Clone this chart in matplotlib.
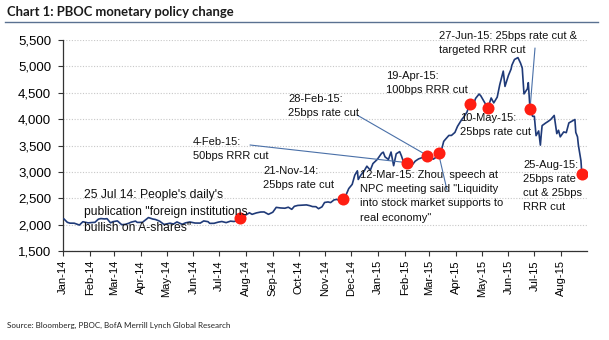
import pandas as pd
import matplotlib
matplotlib.use('Agg')
import matplotlib.pyplot as plt
import matplotlib.dates as mdates
from matplotlib.ticker import FuncFormatter, MultipleLocator
from matplotlib.lines import Line2D

# Shanghai Composite, values
dates = [
    '2014-01-02', '2014-01-06', '2014-01-09', '2014-01-14', '2014-01-20', '2014-01-24', '2014-01-30',
    '2014-02-07', '2014-02-11', '2014-02-14', '2014-02-18', '2014-02-21', '2014-02-25', '2014-02-28',
    '2014-03-05', '2014-03-10', '2014-03-14', '2014-03-18', '2014-03-21', '2014-03-26', '2014-03-28',
    '2014-04-03', '2014-04-10', '2014-04-15', '2014-04-18', '2014-04-23', '2014-04-28',
    '2014-05-05', '2014-05-09', '2014-05-13', '2014-05-19', '2014-05-23', '2014-05-28',
    '2014-06-03', '2014-06-09', '2014-06-13', '2014-06-18', '2014-06-20', '2014-06-25', '2014-06-30',
    '2014-07-04', '2014-07-09', '2014-07-14', '2014-07-18', '2014-07-22', '2014-07-25', '2014-07-29',
    '2014-08-01', '2014-08-05', '2014-08-08', '2014-08-13', '2014-08-18', '2014-08-22', '2014-08-27',
    '2014-09-01', '2014-09-05', '2014-09-10', '2014-09-15', '2014-09-19', '2014-09-23', '2014-09-26', '2014-09-30',
    '2014-10-10', '2014-10-14', '2014-10-17', '2014-10-21', '2014-10-24', '2014-10-28', '2014-10-31',
    '2014-11-04', '2014-11-07', '2014-11-11', '2014-11-14', '2014-11-18', '2014-11-21', '2014-11-25', '2014-11-28',
    '2014-12-02', '2014-12-05', '2014-12-08', '2014-12-09', '2014-12-12', '2014-12-16', '2014-12-19',
    '2014-12-23', '2014-12-26', '2014-12-31',
    '2015-01-05', '2015-01-07', '2015-01-09', '2015-01-13', '2015-01-16', '2015-01-19', '2015-01-22',
    '2015-01-26', '2015-01-28', '2015-01-30',
    '2015-02-03', '2015-02-04', '2015-02-06', '2015-02-10', '2015-02-13', '2015-02-17', '2015-02-26', '2015-02-27',
    '2015-03-03', '2015-03-06', '2015-03-10', '2015-03-12', '2015-03-16', '2015-03-18', '2015-03-20',
    '2015-03-24', '2015-03-27', '2015-03-31',
    '2015-04-03', '2015-04-08', '2015-04-10', '2015-04-14', '2015-04-17', '2015-04-20', '2015-04-24',
    '2015-04-28', '2015-04-30',
    '2015-05-05', '2015-05-08', '2015-05-12', '2015-05-15', '2015-05-19', '2015-05-22', '2015-05-26', '2015-05-28',
    '2015-06-01', '2015-06-04', '2015-06-05', '2015-06-08', '2015-06-12', '2015-06-15', '2015-06-17',
    '2015-06-19', '2015-06-23', '2015-06-24', '2015-06-26', '2015-06-29',
    '2015-07-01', '2015-07-03', '2015-07-06', '2015-07-08', '2015-07-09', '2015-07-10', '2015-07-14',
    '2015-07-17', '2015-07-20', '2015-07-24', '2015-07-27', '2015-07-29', '2015-07-31',
    '2015-08-04', '2015-08-07', '2015-08-10', '2015-08-14', '2015-08-17', '2015-08-18', '2015-08-20',
    '2015-08-21', '2015-08-24', '2015-08-25',
]
index_level = [
    2109, 2044, 2028, 2027, 1992, 2055, 2033,
    2044, 2104, 2115, 2108, 2113, 2034, 2056,
    2071, 1999, 2004, 2025, 2047, 2067, 2042,
    2043, 2134, 2106, 2098, 2065, 2003,
    2027, 2011, 2051, 2006, 2034, 2050,
    2030, 2029, 2070, 2056, 2024, 2025, 2048,
    2059, 2038, 2066, 2059, 2075, 2127, 2183,
    2185, 2224, 2195, 2222, 2239, 2240, 2195,
    2235, 2327, 2316, 2311, 2330, 2290, 2347, 2364,
    2374, 2359, 2342, 2340, 2302, 2337, 2420,
    2430, 2418, 2469, 2478, 2456, 2487, 2567, 2683,
    2763, 2938, 3020, 2856, 2938, 3021, 3108,
    3032, 3157, 3235,
    3351, 3374, 3285, 3235, 3376, 3117, 3343,
    3384, 3305, 3210,
    3205, 3174, 3076, 3142, 3203, 3247, 3298, 3310,
    3264, 3241, 3286, 3349, 3449, 3578, 3617,
    3691, 3691, 3748,
    3863, 3995, 4034, 4135, 4287, 4217, 4394,
    4476, 4441,
    4298, 4205, 4401, 4308, 4417, 4657, 4910, 4620,
    4829, 4947, 5023, 5131, 5166, 5062, 4967,
    4478, 4577, 4691, 4192, 4053,
    4054, 3687, 3776, 3507, 3710, 3877, 3925,
    3957, 3993, 4070, 3725, 3789, 3664,
    3757, 3744, 3928, 3965, 3993, 3748, 3664,
    3508, 3210, 2965,
]

# policy events (red dots)
event_dates = ['2014-07-25', '2014-11-21', '2015-02-04', '2015-02-27', '2015-03-12',
               '2015-04-17', '2015-05-08', '2015-06-26', '2015-08-25']
event_levels = [2127, 2487, 3174, 3310, 3349, 4287, 4205, 4192, 2965]

df = pd.DataFrame({'Date': pd.to_datetime(dates), 'Level': index_level}).set_index('Date')
ev = pd.DataFrame({'Date': pd.to_datetime(event_dates), 'Level': event_levels})

W, H = 609, 340
fig = plt.figure(figsize=(W / 100, H / 100), dpi=100)
plt.rcParams['font.family'] = ['Liberation Sans', 'DejaVu Sans']


def px(x, y):
    # pixel (from top-left) -> figure fraction
    return x / W, 1 - y / H


ax = fig.add_axes([63 / W, 1 - 251 / H, (587 - 63) / W, (251 - 40) / H])

navy = '#1f3a78'
ax.plot(df.index, df['Level'], color=navy, linewidth=1.2, zorder=3)
ax.scatter(ev['Date'], ev['Level'], s=75, color='#ff1e12', zorder=5, linewidths=0)

ax.set_ylim(1500, 5500)
ax.set_xlim(pd.Timestamp('2014-01-01'), pd.Timestamp('2015-08-31'))
ax.yaxis.set_major_locator(MultipleLocator(500))
ax.yaxis.set_major_formatter(FuncFormatter(lambda v, p: f'{v:,.0f}'))
ax.xaxis.set_major_locator(mdates.MonthLocator())
ax.xaxis.set_major_formatter(mdates.DateFormatter('%b-%y'))
plt.setp(ax.get_xticklabels(), rotation=90, fontsize=8)
plt.setp(ax.get_yticklabels(), fontsize=9.5)
ax.tick_params(axis='both', direction='out', length=3.5, width=0.8, color='#333333', pad=3)
ax.tick_params(axis='y', pad=5)

ax.grid(axis='y', color='#c8c8c8', linestyle=(0, (1, 1.5)), linewidth=0.8)
ax.set_axisbelow(True)
for s in ['top', 'right']:
    ax.spines[s].set_visible(False)
for s in ['left', 'bottom']:
    ax.spines[s].set_color('#333333')
    ax.spines[s].set_linewidth(0.9)

# leader lines from text to event dots
lead = dict(arrowstyle='-', color='#4a70a8', linewidth=0.8, shrinkA=0, shrinkB=0)
ax.annotate('', xy=(ev['Date'][2], ev['Level'][2]), xytext=px(250, 145),
            textcoords='figure fraction', arrowprops=lead, zorder=4)
ax.annotate('', xy=(ev['Date'][3], ev['Level'][3]), xytext=px(357, 115),
            textcoords='figure fraction', arrowprops=lead, zorder=4)
ax.annotate('', xy=(ev['Date'][4], ev['Level'][4]), xytext=px(447, 190),
            textcoords='figure fraction', arrowprops=lead, zorder=4)
ax.annotate('', xy=(ev['Date'][7], ev['Level'][7]), xytext=px(535, 48),
            textcoords='figure fraction', arrowprops=lead, zorder=4)

notes = [
    (84, 208, "25 Jul 14: People's daily's\npublication \"foreign institutions\nbullish on A-shares\"", 8.7, 1.45),
    (263, 175, "21-Nov-14:\n25bps rate cut", 8, 1.55),
    (193, 146, "4-Feb-15:\n50bps RRR cut", 8, 1.55),
    (288, 103, "28-Feb-15:\n25bps rate cut", 8, 1.55),
    (360, 193, "12-Mar-15: Zhou  speech at\nNPC meeting said \"Liquidity\ninto stock market supports to\nreal economy\"", 8, 1.55),
    (386, 80, "19-Apr-15:\n100bps RRR cut", 8, 1.55),
    (460, 122, "10-May-15:\n25bps rate cut", 8, 1.55),
    (439, 40, "27-Jun-15: 25bps rate cut &\ntargeted RRR cut", 8, 1.55),
    (523, 183, "25-Aug-15:\n25bps rate\ncut & 25bps\nRRR cut", 8, 1.5),
]
for x, y, t, fs, ls in notes:
    fx, fy = px(x, y)
    fig.text(fx, fy, t, fontsize=fs, ha='left', va='center_baseline', linespacing=ls,
             color='#111111', zorder=6)

# header and footer
fig.text(*px(7, 12), 'Chart 1: PBOC monetary policy change', fontsize=9.4, fontweight='bold',
         family=['Lato', 'DejaVu Sans'], color='#1a1a1a', va='center')
x0, y0 = px(5, 22)
x1, _ = px(598, 22)
fig.add_artist(Line2D([x0, x1], [y0, y0], color='#5a7191', linewidth=1.0))
fig.text(*px(7, 325), 'Source: Bloomberg, PBOC, BofA Merrill Lynch Global Research', fontsize=5.8,
         family=['Lato', 'DejaVu Sans'], color='#222222', va='center')

fig.savefig('out.png', dpi=100)
